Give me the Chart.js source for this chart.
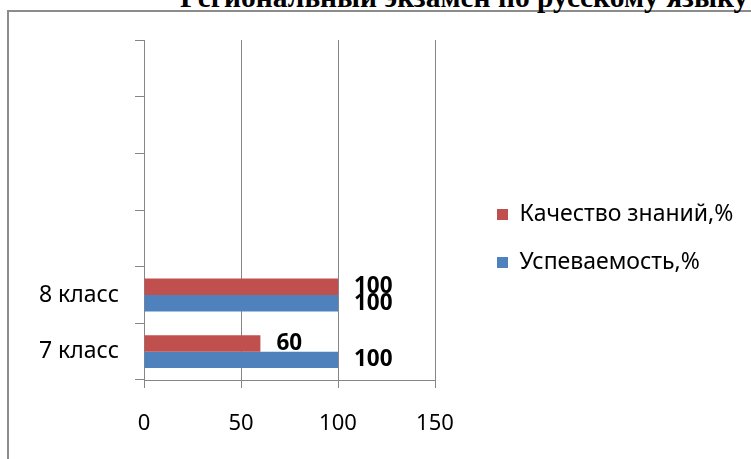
<!DOCTYPE html>
<html>
<head>
<meta charset="utf-8">
<script src="https://cdn.jsdelivr.net/npm/chart.js@4/dist/chart.umd.min.js"></script>
<style>
  html, body { margin: 0; padding: 0; background: #fff; overflow: hidden; }
  #wrap { position: relative; width: 751px; height: 459px; }
  #frame { position: absolute; left: 7px; top: 10px; width: 760px; height: 470px;
           border-left: 2px solid #8c8c8c; border-top: 2px solid #8c8c8c; }
  #title { position: absolute; left: 180px; top: -19px; line-height: 30px; white-space: nowrap;
           font: bold 29.5px "Liberation Serif", "Times New Roman", serif; color: #000; }
  canvas { position: absolute; left: 0; top: 0; }
</style>
</head>
<body>
<div id="wrap">
  <div id="frame"></div>
  <div id="title">Региональный экзамен по русскому языку</div>
  <canvas id="examChart" width="751" height="459"></canvas>
</div>
<script>
// categories, bottom to top (empty rows are part of the original axis)
const classLabels = ['7 класс', '8 класс', '', '', '', ''];
const qualityValues = [60, 100];   // Качество знаний,%
const successValues = [100, 100];  // Успеваемость,%
const xTicks = [0, 50, 100, 150];

const gridColor = '#868686';
const tickFont = { family: 'Noto Sans', size: 22 };
const textFont = { family: 'Noto Sans', size: 23 };

// draws the value next to the end of each bar
const valueLabels = {
    id: 'valueLabels',
    afterDatasetsDraw(chart) {
        const ctx = chart.ctx;
        ctx.save();
        ctx.font = 'bold 22.5px "Noto Sans"';
        ctx.fillStyle = '#000';
        ctx.textAlign = 'left';
        ctx.textBaseline = 'middle';
        chart.data.datasets.forEach((ds, i) => {
            chart.getDatasetMeta(i).data.forEach((bar, j) => {
                if (ds.data[j] == null) return;
                ctx.fillText(ds.data[j], bar.x + 16, bar.y);
            });
        });
        ctx.restore();
    }
};

// legend sits to the right of the plot, a bit away from it
const legendPlace = {
    id: 'legendPlace',
    beforeInit(chart) {
        const fit = chart.legend.fit;
        chart.legend.fit = function () {
            fit.call(this);
            this.width = 751 - 435;
        };
    },
    afterLayout(chart) {
        const lg = chart.legend;
        const h = lg.bottom - lg.top;
        lg.left = 472;
        lg.top = 178;
        lg.bottom = lg.top + h;
    }
};

new Chart(document.getElementById('examChart'), {
    type: 'bar',
    data: {
        labels: classLabels,
        datasets: [
            { label: 'Качество знаний,%', data: qualityValues, backgroundColor: '#C0504D' },
            { label: 'Успеваемость,%', data: successValues, backgroundColor: '#4F81BD' }
        ]
    },
    options: {
        indexAxis: 'y',
        responsive: false,
        animation: false,
        layout: { padding: { top: 40, left: 0, right: 0, bottom: 0 } },
        datasets: { bar: { categoryPercentage: 0.58, barPercentage: 1.0 } },
        scales: {
            x: {
                min: 0, max: 150,
                afterBuildTicks: (scale) => { scale.ticks = xTicks.map(v => ({ value: v })); },
                afterFit: (scale) => { scale.height = 79; },
                grid: { color: gridColor, tickLength: 8 },
                border: { color: gridColor },
                ticks: { color: '#000', font: tickFont, padding: 23 }
            },
            y: {
                reverse: true,
                afterFit: (scale) => { scale.width = 144; },
                grid: { color: gridColor, drawOnChartArea: false, tickLength: 9, offset: true },
                border: { color: gridColor },
                ticks: { color: '#000', font: textFont, padding: 16 }
            }
        },
        plugins: {
            legend: {
                position: 'right',
                align: 'start',
                labels: { boxWidth: 11, boxHeight: 11, padding: 25, color: '#000', font: textFont }
            },
            tooltip: { enabled: false }
        }
    },
    plugins: [valueLabels, legendPlace]
});
</script>
</body>
</html>
